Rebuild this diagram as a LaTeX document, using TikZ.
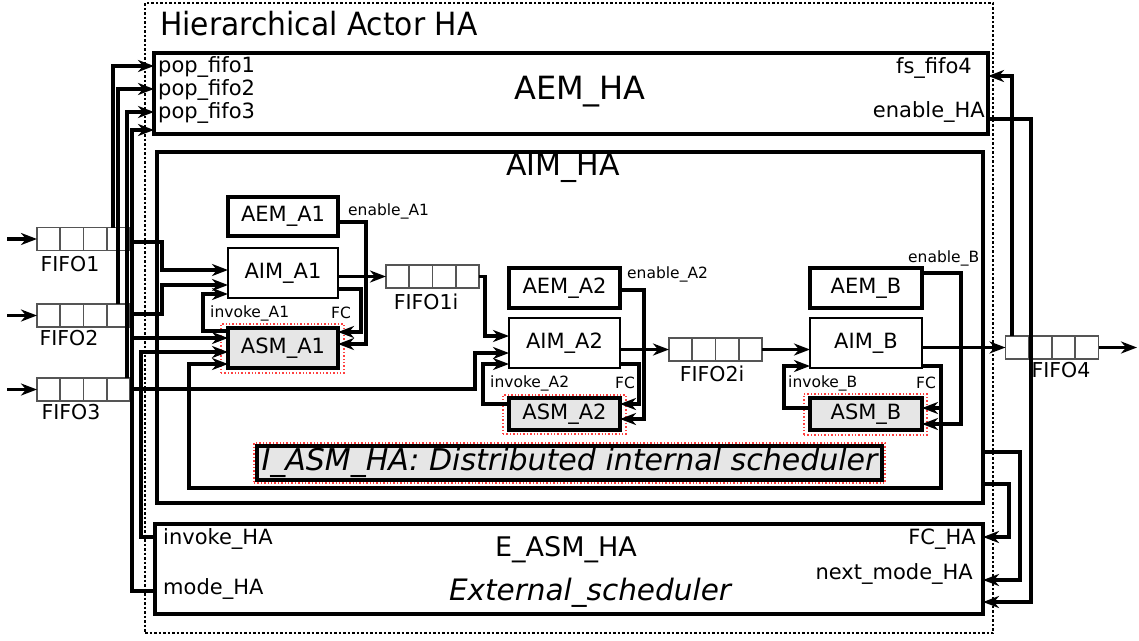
\documentclass[tikz,border=0pt]{standalone}
\usepackage{fontspec}
\setmainfont{DejaVu Sans}
\usetikzlibrary{arrows.meta,calc}
\definecolor{asmgray}{HTML}{E6E6E6}
\definecolor{fifogray}{HTML}{555555}
\begin{document}
\begin{tikzpicture}[x=1pt,y=-1pt,
  box/.style={draw, line width=3.1pt, inner sep=0pt, outer sep=0pt, anchor=north west, font=\fontsize{21}{25}\selectfont},
  thinbox/.style={box, line width=1.7pt},
  asmbox/.style={box, fill=asmgray},
  conn/.style={line width=3.2pt},
  arr/.style={conn, -{Stealth[length=16pt,width=12pt,inset=5pt]}},
  fifo/.style={draw=fifogray, fill=white, line width=1.6pt, inner sep=0pt, outer sep=0pt, minimum width=93pt, minimum height=23pt},
  fifoline/.style={draw=fifogray, line width=1.6pt},
  lbl/.style={inner sep=0pt, font=\fontsize{21}{25}\selectfont},
  sml/.style={inner sep=0pt, font=\fontsize{15.5}{18}\selectfont},
  big/.style={inner sep=0pt, font=\fontsize{30}{34}\selectfont},
  reddot/.style={draw=red!75, dotted, line width=1.4pt},
]
\useasboundingbox (0,0) rectangle (1139,640);
% outer hierarchical actor
\node[draw, dotted, line width=2.5pt, inner sep=0pt, outer sep=0pt, anchor=north west, minimum width=848, minimum height=630] (ha) at (145,3) {};
\node[anchor=west, inner sep=0pt, font=\fontsize{32}{36}\selectfont] (title) at (160,24) {\scalebox{0.93}[1]{Hierarchical Actor HA}};

% big boxes
\node[box, minimum width=834, minimum height=81] (aemHA) at (154,53) {};
\node[big, font=\fontsize{32}{36}\selectfont] (aemHAl) at (580,92) {AEM\_HA};
\node[lbl, anchor=west] (pf1) at (158,67) {pop\_fifo1};
\node[lbl, anchor=west] (pf2) at (158,90) {pop\_fifo2};
\node[lbl, anchor=west] (pf3) at (158,113) {pop\_fifo3};
\node[lbl, anchor=east] (fs4) at (972,68) {fs\_fifo4};
\node[lbl, anchor=east] (enHA) at (985,112) {enable\_HA};

\node[box, minimum width=826, minimum height=351] (aimHA) at (157,152) {};
\node[big] (aimHAl) at (563,168) {AIM\_HA};

\node[box, minimum width=828, minimum height=90] (eHA) at (155,524) {};
\node[inner sep=0pt, font=\fontsize{27}{31}\selectfont] (eHAl) at (566,550) {E\_ASM\_HA};
\node[big, font=\fontsize{29.5}{33}\selectfont\itshape] (ext) at (590,593) {External\_scheduler};
\node[lbl, anchor=west] (invHA) at (163,539) {invoke\_HA};
\node[lbl, anchor=west] (modeHA) at (163,589) {mode\_HA};
\node[lbl, anchor=east] (fcHA) at (976,539) {FC\_HA};
\node[lbl, anchor=east] (nmHA) at (973,574) {next\_mode\_HA};

% red dotted scheduler frames
\node[reddot, inner sep=0pt, outer sep=0pt, anchor=north west, minimum width=123, minimum height=49] (rA1) at (221,324) {};
\node[reddot, inner sep=0pt, outer sep=0pt, anchor=north west, minimum width=123, minimum height=39] (rA2) at (503,395) {};
\node[reddot, inner sep=0pt, outer sep=0pt, anchor=north west, minimum width=123, minimum height=41] (rB) at (804,394) {};
\node[reddot, inner sep=0pt, outer sep=0pt, anchor=north west, minimum width=631, minimum height=40] (rI) at (254,443) {};

% actor A1
\node[box, minimum width=110, minimum height=39] (aemA1) at (228,197) {AEM\_A1};
\node[thinbox, minimum width=110, minimum height=50] (aimA1) at (228,248) {AIM\_A1};
\node[asmbox, minimum width=110, minimum height=40] (asmA1) at (228,328) {ASM\_A1};
% actor A2
\node[box, minimum width=111, minimum height=40] (aemA2) at (509,268) {AEM\_A2};
\node[thinbox, minimum width=111, minimum height=50] (aimA2) at (509,318) {AIM\_A2};
\node[asmbox, minimum width=111, minimum height=32] (asmA2) at (509,398) {ASM\_A2};
% actor B
\node[box, minimum width=112, minimum height=40] (aemB) at (810,268) {AEM\_B};
\node[thinbox, minimum width=112, minimum height=50] (aimB) at (810,318) {AIM\_B};
\node[asmbox, minimum width=112, minimum height=32] (asmB) at (810,398) {ASM\_B};

% internal scheduler label
\node[asmbox, minimum width=625, minimum height=34, font=\fontsize{30}{34}\selectfont\itshape] (iasm) at (257,446) {I\_ASM\_HA: Distributed internal scheduler};

% small labels
\node[sml, anchor=west] (enA1) at (348,211) {enable\_A1};
\node[sml, anchor=west] (invA1) at (210,313) {invoke\_A1};
\node[sml] (fcA1) at (341,313) {FC};
\node[sml, anchor=west] (enA2) at (627,274) {enable\_A2};
\node[sml, anchor=west] (invA2) at (490,383) {invoke\_A2};
\node[sml] (fcA2) at (625,383) {FC};
\node[sml, anchor=west] (enB) at (908,258) {enable\_B};
\node[sml, anchor=west] (invB) at (788,383) {invoke\_B};
\node[sml] (fcB) at (926,383) {FC};

% FIFOs
\node[fifo] (fA) at (83.5,239) {};
\node[fifo] (fB) at (83.5,315.5) {};
\node[fifo] (fC) at (83.5,389.5) {};
\node[fifo] (fD) at (432.5,276.5) {};
\node[fifo] (fE) at (715.5,349.5) {};
\node[fifo] (fF) at (1052,347.5) {};
\foreach \f in {fA,fB,fC,fD,fE,fF}
  \foreach \i in {1,2,3}
    \draw[fifoline] ($(\f.north west)!\i/4!(\f.north east)$) -- ($(\f.south west)!\i/4!(\f.south east)$);
\node[lbl, font=\fontsize{20.5}{24}\selectfont] (lA) at (70,264) {FIFO1};
\node[lbl, font=\fontsize{20.5}{24}\selectfont] (lB) at (69,338) {FIFO2};
\node[lbl, font=\fontsize{20.5}{24}\selectfont] (lC) at (71,412) {FIFO3};
\node[lbl, font=\fontsize{20.5}{24}\selectfont] (lD) at (426,302) {FIFO1i};
\node[lbl, font=\fontsize{20.5}{24}\selectfont] (lE) at (712,374) {FIFO2i};
\node[lbl, font=\fontsize{20.5}{24}\selectfont] (lF) at (1061,370) {FIFO4};

% free ends
\coordinate (in1) at (7,239);
\coordinate (in2) at (7,315.5);
\coordinate (in3) at (7,389.5);
\coordinate (out4) at (1137,347.5);
\coordinate (jm) at (132,338);
\coordinate (jb) at (941,408);

% inputs
\draw[arr] (in1) -- (fA.west);
\draw[arr] (in2) -- (fB.west);
\draw[arr] (in3) -- (fC.west);

% pop signals
\draw[arr] (fA.north -| 113,0) |- (aemHA.west |- 0,66);
\draw[arr] (fB.north -| 118,0) |- (aemHA.west |- 0,89);
\draw[arr] (fC.north -| 127,0) |- (aemHA.west |- 0,112);

% external scheduler outputs
\draw[arr] (eHA.west |- 0,591) -| (132,130) -- (aemHA.west |- 0,130);
\draw[arr] (jm) -- (asmA1.west |- jm);
\draw[arr] (eHA.west |- 0,537) -| (141,352) -- (asmA1.west |- 0,352);

% data to A1
\draw[arr] (fA.east |- 0,242) -| (162,270) -- (aimA1.west |- 0,270);
\draw[arr] (fB.east |- 0,314) -| (162,285) -- (aimA1.west |- 0,285);
\draw[arr] (fC.east |- 0,389) -| (475,353) -- (aimA2.west |- 0,353);

% A1 internals
\draw[arr] (asmA1.west |- 0,331) -| (203,294) -- (aimA1.west |- 0,294);
\draw[arr] (aemA1.east |- 0,222) -| (366,344) -- (asmA1.east |- 0,344);
\draw[arr] (aimA1.east |- 0,289) -| (361,332) -- (asmA1.east |- 0,332);
\draw[arr] (aimA1.east |- fD.west) -- (fD.west);
\draw[arr] (fD.east) -| (485,336) -- (aimA2.west |- 0,336);

% A2 internals
\draw[arr] (asmA2.west |- 0,404) -| (483,364) -- (aimA2.west |- 0,364);
\draw[arr] (aemA2.east |- 0,290) -| (644,419) -- (asmA2.east |- 0,419);
\draw[arr] (aimA2.east |- 0,364) -| (639,404) -- (asmA2.east |- 0,404);
\draw[arr] (aimA2.east |- fE.west) -- (fE.west);
\draw[arr] (fE.east) -- (aimB.west |- fE.east);

% B internals
\draw[arr] (asmB.west |- 0,408) -| (784,366) -- (aimB.west |- 0,366);
\draw[arr] (aemB.east |- 0,273) -| (961,424) -- (asmB.east |- 0,424);
\draw[arr] (aimB.east |- 0,366) -| (941,488) -| (189,364) -- (asmA1.west |- 0,364);
\draw[arr] (jb) -- (asmB.east |- jb);
\draw[arr] (aimB.east |- fF.west) -- (fF.west);
\draw[arr] (fF.east) -- (out4);

% HA level signals
\draw[arr] (fF.north -| 1012,0) |- (aemHA.east |- 0,76);
\draw[arr] (aemHA.east |- 0,119) -| (1031,602) -- (eHA.east |- 0,602);
\draw[arr] (aimHA.east |- 0,452) -| (1020,580) -- (eHA.east |- 0,580);
\draw[arr] (aimHA.east |- 0,484) -| (1009,537) -- (eHA.east |- 0,537);
\end{tikzpicture}
\end{document}
